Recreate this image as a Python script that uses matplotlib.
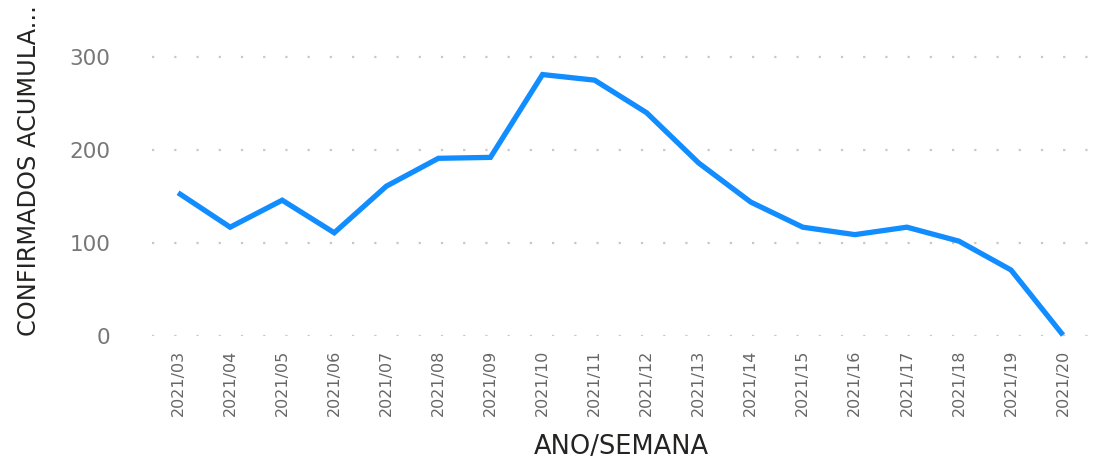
import numpy as np
import matplotlib
matplotlib.use('Agg')
import matplotlib.pyplot as plt

semanas = ['2021/03', '2021/04', '2021/05', '2021/06', '2021/07', '2021/08',
           '2021/09', '2021/10', '2021/11', '2021/12', '2021/13', '2021/14',
           '2021/15', '2021/16', '2021/17', '2021/18', '2021/19', '2021/20']
confirmados = [154, 117, 146, 111, 161, 191, 192, 281, 275, 240, 186, 144,
               117, 109, 117, 102, 71, 1]
y_ticks = [0, 100, 200, 300]

fig = plt.figure(figsize=(11.05, 4.61), dpi=100)
ax = fig.add_axes([0.1376, 0.271, 0.848, 0.646])

x = np.arange(len(semanas))
ax.plot(x, confirmados, color='#118DFF', linewidth=3.8, solid_joinstyle='miter',
        solid_capstyle='butt', clip_on=False, zorder=3)

ax.set_xlim(-0.5, len(semanas) - 0.5)
ax.set_ylim(0, 320)
ax.set_yticks(y_ticks)
ax.set_xticks(x)
ax.set_xticklabels(semanas, rotation=90, fontsize=11.5, color='#666666')
ax.tick_params(axis='y', labelsize=15.5, labelcolor='#777777', length=0, pad=30)
ax.tick_params(axis='x', length=0, pad=10)

ax.grid(axis='y', color='#c8c8c8', linewidth=1.6, linestyle=(0, (1, 9)))
ax.set_axisbelow(True)
for s in ax.spines.values():
    s.set_visible(False)

fig.text(0.562, 0.03, 'ANO/SEMANA', ha='center', va='center',
         fontsize=18.5, color='#252423')
fig.text(0.026, 0.629, 'CONFIRMADOS ACUMULA...', rotation=90, ha='center', va='center',
         fontsize=17.3, color='#252423')

fig.savefig('out.png', dpi=100)
